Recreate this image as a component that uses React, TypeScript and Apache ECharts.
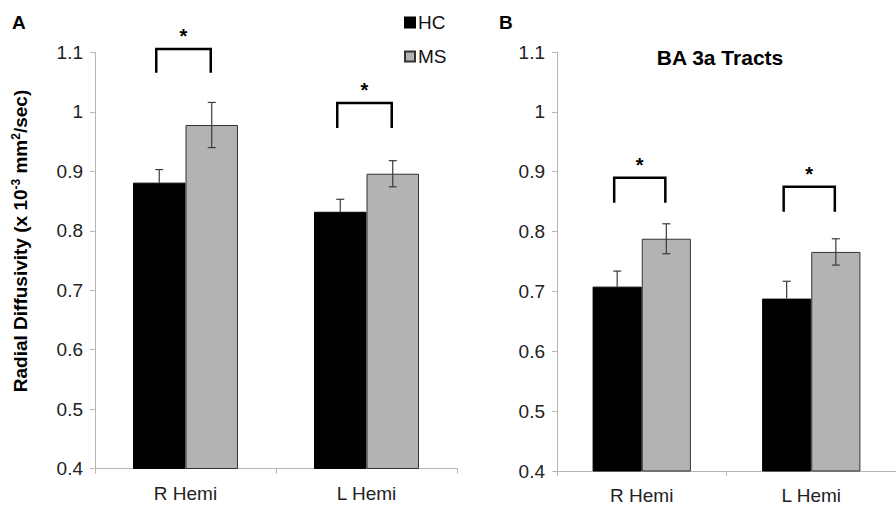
import React, { useEffect, useRef } from "react";
import * as echarts from "echarts";

const categories = ["R Hemi", "L Hemi"];
const legendNames = ["HC", "MS"];
const yTicks = { min: 0.4, max: 1.1, interval: 0.1 };

// Panel A (whole tracts)
const hcA = [0.881, 0.832];
const hcAErr = [0.022, 0.021];
const msA = [0.978, 0.896];
const msAErr = [0.038, 0.022];
const sigTopA = [1.106, 1.015];
const sigBottomA = [1.066, 0.973];

// Panel B (BA 3a Tracts)
const hcB = [0.708, 0.688];
const hcBErr = [0.026, 0.029];
const msB = [0.788, 0.766];
const msBErr = [0.025, 0.022];
const sigTopB = [0.89, 0.875];
const sigBottomB = [0.848, 0.833];

const panelTitleB = "BA 3a Tracts";
const yAxisNameParts = ["Radial Diffusivity (x 10", "-3", " mm", "2", "/sec)"];

const FONT = "'Liberation Sans', Arial, Helvetica, sans-serif";
const GAP = 0.42;
const HC_COLOR = "#000000";
const MS_COLOR = "#b3b3b3";

function errData(vals: number[], errs: number[], side: number) {
  return vals.map((v, i) => [i, v, errs[i], side]);
}
function sigData(tops: number[], bottoms: number[]) {
  return tops.map((t, i) => [i, t, bottoms[i]]);
}

const renderErr = (params: any, api: any) => {
  const cat = api.value(0);
  const val = api.value(1);
  const err = api.value(2);
  const side = api.value(3);
  const band = api.size([1, 0])[0];
  const barW = (band * (1 - GAP)) / 2;
  const c = api.coord([cat, val]);
  const x = c[0] + (side * barW) / 2;
  const top = api.coord([cat, val + err])[1];
  const bot = api.coord([cat, val - err])[1];
  const st = { stroke: "#3a3a3a", lineWidth: 1.2 };
  const children: any[] = [
    { type: "line", shape: { x1: x - 4, y1: top, x2: x + 4, y2: top }, style: st },
  ];
  if (side < 0) {
    // lower half hidden behind the black bar
    children.push({ type: "line", shape: { x1: x, y1: top, x2: x, y2: c[1] }, style: st });
  } else {
    children.push({ type: "line", shape: { x1: x, y1: top, x2: x, y2: bot }, style: st });
    children.push({ type: "line", shape: { x1: x - 4, y1: bot, x2: x + 4, y2: bot }, style: st });
  }
  return { type: "group", children };
};

const renderSig = (params: any, api: any) => {
  const cat = api.value(0);
  const topV = api.value(1);
  const botV = api.value(2);
  const band = api.size([1, 0])[0];
  const barW = (band * (1 - GAP)) / 2;
  const c = api.coord([cat, topV]);
  const xl = c[0] - barW / 2 - 3;
  const xr = c[0] + barW / 2 - 1;
  const yt = c[1];
  const yb = api.coord([cat, botV])[1];
  return {
    type: "group",
    children: [
      {
        type: "polyline",
        shape: { points: [[xl, yb], [xl, yt], [xr, yt], [xr, yb]] },
        style: { stroke: "#000", lineWidth: 2.5, fill: "none" },
      },
      {
        type: "text",
        x: (xl + xr) / 2,
        y: yt - 3,
        style: {
          text: "*",
          fill: "#000",
          font: `bold 20px ${FONT}`,
          align: "center",
          verticalAlign: "bottom",
        },
      },
    ],
  };
};

function makeYAxis(gridIndex: number) {
  return {
    type: "value",
    gridIndex,
    min: yTicks.min,
    max: yTicks.max,
    interval: yTicks.interval,
    axisLine: { show: true, lineStyle: { color: "#b5b5b5", width: 1 } },
    axisTick: { show: true, length: 5, lineStyle: { color: "#b5b5b5" } },
    splitLine: { show: false },
    axisLabel: { color: "#222", fontSize: 19, fontFamily: FONT, margin: 12 },
  };
}

function makeXAxis(gridIndex: number) {
  return {
    type: "category",
    gridIndex,
    data: categories,
    axisLine: { show: true, lineStyle: { color: "#b5b5b5", width: 1 } },
    axisTick: { show: true, length: 5, lineStyle: { color: "#b5b5b5" } },
    axisLabel: { color: "#222", fontSize: 19, fontFamily: FONT, margin: 15 },
  };
}

export default function App() {
  const ref = useRef<HTMLDivElement>(null);
  useEffect(() => {
    if (!ref.current) return;
    const chart = echarts.init(ref.current, null, { renderer: "svg" });
    const barBase = {
      type: "bar",
      barGap: "0%",
      barCategoryGap: `${GAP * 100}%`,
      z: 2,
    };
    const hcStyle = { color: HC_COLOR, borderColor: "#000", borderWidth: 1 };
    const msStyle = { color: MS_COLOR, borderColor: "#333", borderWidth: 1 };
    const [p0, p1, p2, p3, p4] = yAxisNameParts;
    chart.setOption({
      animation: false,
      backgroundColor: "#ffffff",
      textStyle: { fontFamily: FONT },
      legend: {
        data: legendNames,
        orient: "vertical",
        left: 399,
        top: 8,
        itemWidth: 10,
        itemHeight: 10,
        itemGap: 15,
        icon: "rect",
        textStyle: { color: "#111", fontSize: 19, fontFamily: FONT, padding: [0, 0, 0, -2] },
      },
      grid: [
        { left: 95, top: 52.5, width: 362, height: 416 },
        { left: 557, top: 52, width: 352, height: 419 },
      ],
      xAxis: [makeXAxis(0), makeXAxis(1)],
      yAxis: [makeYAxis(0), makeYAxis(1)],
      series: [
        { ...barBase, name: "HC", xAxisIndex: 0, yAxisIndex: 0, data: hcA, itemStyle: hcStyle },
        { ...barBase, name: "MS", xAxisIndex: 0, yAxisIndex: 0, data: msA, itemStyle: msStyle },
        { ...barBase, name: "HC", xAxisIndex: 1, yAxisIndex: 1, data: hcB, itemStyle: hcStyle },
        { ...barBase, name: "MS", xAxisIndex: 1, yAxisIndex: 1, data: msB, itemStyle: msStyle },
        {
          type: "custom",
          name: "errA",
          xAxisIndex: 0,
          yAxisIndex: 0,
          z: 5,
          encode: { x: 0, y: 1 },
          renderItem: renderErr,
          data: [...errData(hcA, hcAErr, -1), ...errData(msA, msAErr, 1)],
        },
        {
          type: "custom",
          name: "errB",
          xAxisIndex: 1,
          yAxisIndex: 1,
          z: 5,
          encode: { x: 0, y: 1 },
          renderItem: renderErr,
          data: [...errData(hcB, hcBErr, -1), ...errData(msB, msBErr, 1)],
        },
        {
          type: "custom",
          name: "sigA",
          xAxisIndex: 0,
          yAxisIndex: 0,
          z: 5,
          clip: false,
          encode: { x: 0, y: 1 },
          renderItem: renderSig,
          data: sigData(sigTopA, sigBottomA),
        },
        {
          type: "custom",
          name: "sigB",
          xAxisIndex: 1,
          yAxisIndex: 1,
          z: 5,
          clip: false,
          encode: { x: 0, y: 1 },
          renderItem: renderSig,
          data: sigData(sigTopB, sigBottomB),
        },
      ],
      graphic: [
        {
          type: "text",
          x: 12,
          y: 22,
          style: { text: "A", font: `bold 19px ${FONT}`, fill: "#000", verticalAlign: "middle" },
        },
        {
          type: "text",
          x: 499,
          y: 22,
          style: { text: "B", font: `bold 19px ${FONT}`, fill: "#000", verticalAlign: "middle" },
        },
        {
          type: "text",
          x: 720,
          y: 57,
          style: {
            text: panelTitleB,
            font: `bold 21px ${FONT}`,
            fill: "#000",
            align: "center",
            verticalAlign: "middle",
          },
        },
        {
          type: "text",
          x: 20,
          y: 241,
          rotation: Math.PI / 2,
          style: {
            text: `{n|${p0}}{s|${p1}}{n|${p2}}{s|${p3}}{n|${p4}}`,
            fill: "#000",
            align: "center",
            verticalAlign: "middle",
            rich: {
              n: { fontFamily: FONT, fontWeight: "bold", fontSize: 19, lineHeight: 20, fill: "#000" },
              s: {
                fontFamily: FONT,
                fontWeight: "bold",
                fontSize: 12,
                lineHeight: 20,
                verticalAlign: "top",
                fill: "#000",
              },
            },
          },
        },
      ],
    });
    return () => chart.dispose();
  }, []);
  return (
    <div
      ref={ref}
      style={{ position: "fixed", left: 0, top: 0, width: 896, height: 506, background: "#fff" }}
    />
  );
}
